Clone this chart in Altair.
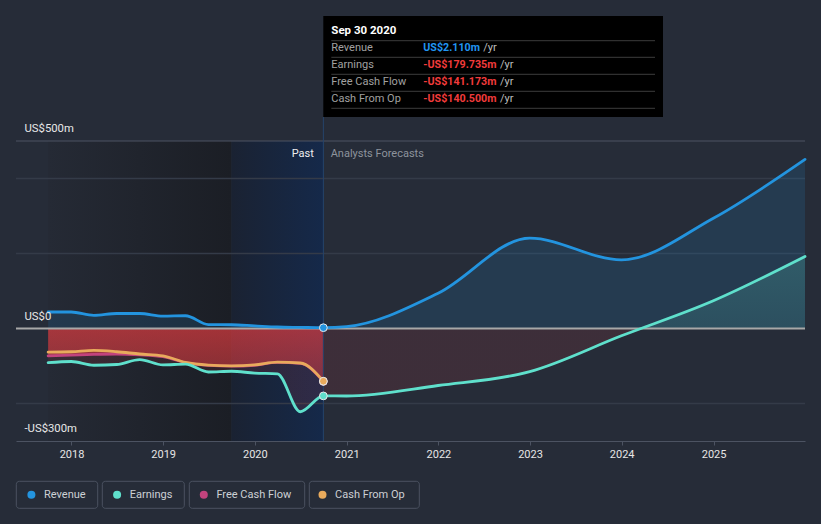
import altair as alt
import pandas as pd

# ---------------- data ----------------
past_dates = ["2017-09-30", "2017-12-31", "2018-03-31", "2018-06-30", "2018-09-30",
              "2018-12-31", "2019-03-31", "2019-06-30", "2019-09-30", "2019-12-31",
              "2020-03-31", "2020-06-30", "2020-09-30"]
revenue_past = [44, 44, 35, 40, 40, 33, 34, 10.5, 10, 7, 4, 3, 2.110]
earnings_past = [-91, -88, -98, -96, -83, -97, -95, -116, -114, -119, -121, -222, -179.735]
fcf_past = [-73, -71, -69, -68, -70, -75, -91, -98.5, -100.5, -98, -90.5, -93, -141.173]
cfo_past = [-63, -62, -58.5, -62, -68, -73, -90.5, -97.5, -99.5, -97, -89.5, -92, -140.5]

forecast_dates = ["2020-12-31", "2021-12-31", "2022-12-31", "2023-12-31", "2024-12-31", "2025-12-31"]
revenue_forecast = [5, 94, 241, 183, 294, 451]
earnings_forecast = [-180, -152, -115, -19.5, 74, 192]

series_names = ["Revenue", "Earnings", "Free Cash Flow", "Cash From Op"]
series_colors = ["#2394df", "#5fe0cc", "#c2437d", "#e8aa5c"]

year_ticks = [2018, 2019, 2020, 2021, 2022, 2023, 2024, 2025]
y_label_values = [500, 0, -300]
y_label_texts = ["US$500m", "US$0", "-US$300m"]
grid_values = [400, 200, -200]
top_value = [500]
highlight_start = "2019-09-30"
tooltip_title = "Sep 30 2020"

# ---------------- frames ----------------
def series_df(dates, vals, name):
    return pd.DataFrame({"date": dates, "value": vals, "series": name})

rev_df = pd.concat([series_df(past_dates, revenue_past, "Revenue"),
                    series_df(forecast_dates, revenue_forecast, "Revenue")])
earn_df = pd.concat([series_df(past_dates, earnings_past, "Earnings"),
                     series_df(forecast_dates, earnings_forecast, "Earnings")])
fcf_df = series_df(past_dates, fcf_past, "Free Cash Flow")
cfo_df = series_df(past_dates, cfo_past, "Cash From Op")

last = {"Revenue": revenue_past[-1], "Earnings": earnings_past[-1],
        "Free Cash Flow": fcf_past[-1], "Cash From Op": cfo_past[-1]}
pts_df = pd.DataFrame({
    "date": [past_dates[-1]] * 4,
    "series": ["Free Cash Flow", "Cash From Op", "Earnings", "Revenue"],
})
pts_df["value"] = [last[s] for s in pts_df["series"]]

W, H = 789, 300
BG = "#262c38"

xs = alt.Scale(domain=[alt.DateTime(year=2017, month=5, date=25),
                       alt.DateTime(year=2025, month=12, date=31)])
ys = alt.Scale(domain=[-300, 500], nice=False, zero=False)
x_axis = alt.Axis(values=[alt.DateTime(year=y, month=1, date=1) for y in year_ticks],
                  format="%Y", title=None, grid=False, labelColor="#e6e6e6",
                  labelFontSize=11, labelPadding=3, tickColor="#4c5362", tickSize=4,
                  domainColor="#4c5362", domainWidth=1, labelFont="Roboto")
cscale = alt.Scale(domain=series_names, range=series_colors)

def X(field="date"):
    return alt.X(f"{field}:T", scale=xs, axis=x_axis)

def Y(field="value"):
    return alt.Y(f"{field}:Q", scale=ys, axis=None)

one = pd.DataFrame({"a": [0]})
layers = []

# past shaded region
past_rect = alt.Chart(pd.DataFrame({"start": [past_dates[0]], "end": [highlight_start]})).mark_rect(
    color=alt.Gradient(gradient="linear", x1=0, x2=1, y1=0, y2=0,
                       stops=[alt.GradientStop(color="#252a35", offset=0),
                              alt.GradientStop(color="#1b1e25", offset=1)])
).encode(x=X("start"), x2="end", y=alt.value(0), y2=alt.value(H))
layers.append(past_rect)

hl_rect = alt.Chart(pd.DataFrame({"start": [highlight_start], "end": [past_dates[-1]]})).mark_rect(
    color=alt.Gradient(gradient="linear", x1=0, x2=1, y1=0, y2=0,
                       stops=[alt.GradientStop(color="#1a2232", offset=0),
                              alt.GradientStop(color="#15294a", offset=1)])
).encode(x=X("start"), x2="end", y=alt.value(0), y2=alt.value(H))
layers.append(hl_rect)

# grid lines
layers.append(alt.Chart(pd.DataFrame({"v": grid_values})).mark_rule(
    color="#343b48", strokeWidth=1.3).encode(y=Y("v"), x=alt.value(0), x2=alt.value(W)))
layers.append(alt.Chart(pd.DataFrame({"v": top_value})).mark_rule(
    color="#4c5362", strokeWidth=1).encode(y=Y("v"), x=alt.value(0), x2=alt.value(W)))

# areas
layers.append(alt.Chart(rev_df).mark_area(interpolate="monotone", color="rgba(35,148,223,0.15)").encode(
    x=X(), y=Y(), y2=alt.datum(0)))

e_all = earnings_past + earnings_forecast
emax, emin = max(e_all + [0]), min(e_all + [0])
off = emax / (emax - emin)
layers.append(alt.Chart(earn_df).mark_area(
    interpolate="monotone",
    color=alt.Gradient(gradient="linear", x1=0, x2=0, y1=0, y2=1,
                       stops=[alt.GradientStop(color="rgba(95,224,204,0.20)", offset=0),
                              alt.GradientStop(color="rgba(95,224,204,0.12)", offset=off),
                              alt.GradientStop(color="rgba(226,62,66,0.12)", offset=off),
                              alt.GradientStop(color="rgba(226,62,66,0.12)", offset=1)])
).encode(x=X(), y=Y(), y2=alt.datum(0)))

layers.append(alt.Chart(fcf_df).mark_area(
    interpolate="monotone",
    color=alt.Gradient(gradient="linear", x1=0, x2=0, y1=0, y2=1,
                       stops=[alt.GradientStop(color="rgba(226,60,64,0.64)", offset=0),
                              alt.GradientStop(color="rgba(226,60,64,0.44)", offset=1)])
).encode(x=X(), y=Y(), y2=alt.datum(0)))

# zero line
layers.append(alt.Chart(pd.DataFrame({"v": [0]})).mark_rule(
    color="#a8a8a8", strokeWidth=2).encode(y=Y("v"), x=alt.value(0), x2=alt.value(W)))

# lines
for df in [fcf_df, cfo_df, earn_df, rev_df]:
    layers.append(alt.Chart(df).mark_line(interpolate="monotone", strokeWidth=2.8, strokeCap="round").encode(
        x=X(), y=Y(), color=alt.Color("series:N", scale=cscale, legend=None)))

# vertical divider
layers.append(alt.Chart(pd.DataFrame({"d": [past_dates[-1]]})).mark_rule(
    color="#24446b", strokeWidth=1).encode(x=X("d"), y=alt.value(-24), y2=alt.value(H)))

# end points (+ legend)
layers.append(alt.Chart(pts_df).mark_circle(size=60, opacity=1, stroke="#e8e8e8", strokeWidth=1).encode(
    x=X(), y=Y(),
    color=alt.Color("series:N", scale=cscale,
                    legend=alt.Legend(orient="none", legendX=9.9, legendY=348, direction="horizontal",
                                      title=None, symbolType="circle", symbolSize=64,
                                      symbolStrokeWidth=0, symbolOpacity=1,
                                      labelColor="#cdd0d5", labelFontSize=11,
                                      labelFont="Roboto", columnPadding=25.7, labelOffset=7.1,
                                      padding=0))))

# Past / Forecast labels
lab_df = pd.DataFrame({"d": [past_dates[-1]]})
layers.append(alt.Chart(lab_df).mark_text(text="Past", align="right", baseline="middle", dx=-9.5,
                                          fontSize=11, color="#eeeeee").encode(x=X("d"), y=alt.value(12.8)))
layers.append(alt.Chart(lab_df).mark_text(text="Analysts Forecasts", align="left", baseline="middle", dx=7.3,
                                          fontSize=11, color="#8d939c").encode(x=X("d"), y=alt.value(12.8)))

# y labels
layers.append(alt.Chart(pd.DataFrame({"v": y_label_values, "t": y_label_texts})).mark_text(
    align="left", baseline="middle", dy=-12, fontSize=11.3, color="#e8e8e8").encode(
    x=alt.value(8.5), y=Y("v"), text="t:N"))

# tooltip box
layers.append(alt.Chart(one).mark_rect(color="#000000").encode(
    x=alt.value(307.3), x2=alt.value(647), y=alt.value(-125), y2=alt.value(-24)))
layers.append(alt.Chart(one).mark_text(text=tooltip_title, align="left", baseline="middle", fontSize=11.5,
                                       fontWeight="bold", color="#ffffff").encode(
    x=alt.value(315.3), y=alt.value(-110)))
for sy in [-100.3, -83.7, -66.7, -49.7, -32.7]:
    layers.append(alt.Chart(one).mark_rule(color="#3c3c3c", strokeWidth=1).encode(
        x=alt.value(315.3), x2=alt.value(639), y=alt.value(sy)))


def fmt(v):
    return ("-" if v < 0 else "") + "US$" + f"{abs(v):.3f}m"

row_y = [-92.7, -76, -59, -41.8]
yr_x = [467.3, 484, 484, 484]
for i, s in enumerate(series_names):
    v = last[s]
    vcol = "#2196f3" if v >= 0 else "#f23b3b"
    layers.append(alt.Chart(one).mark_text(text=s, align="left", baseline="middle", fontSize=11,
                                           color="#a0a0a0").encode(x=alt.value(315.3), y=alt.value(row_y[i])))
    layers.append(alt.Chart(one).mark_text(text=fmt(v), align="left", baseline="middle", fontSize=10.7,
                                           fontWeight="bold", color=vcol).encode(
        x=alt.value(407.3), y=alt.value(row_y[i])))
    layers.append(alt.Chart(one).mark_text(text="/yr", align="left", baseline="middle", fontSize=11,
                                           color="#bdbdbd").encode(x=alt.value(yr_x[i]), y=alt.value(row_y[i])))

# legend boxes
box_x = [(0.3, 81.7), (86.3, 168.3), (173.3, 288.7), (293.3, 403.3)]
for x0, x1 in box_x:
    layers.append(alt.Chart(one).mark_rect(fill="transparent", stroke="#4b5261", strokeWidth=1,
                                           cornerRadius=3).encode(
        x=alt.value(x0), x2=alt.value(x1), y=alt.value(340.3), y2=alt.value(367.3)))

chart = alt.layer(*layers).resolve_legend(color="independent").properties(
    width=W, height=H,
    padding={"left": 16, "top": 141, "right": 16, "bottom": 83},
    autosize=alt.AutoSizeParams(type="none"),
).configure(background=BG, font="Roboto").configure_view(strokeWidth=0)

chart.save("out.html", embed_options={"renderer": "svg", "actions": False})
